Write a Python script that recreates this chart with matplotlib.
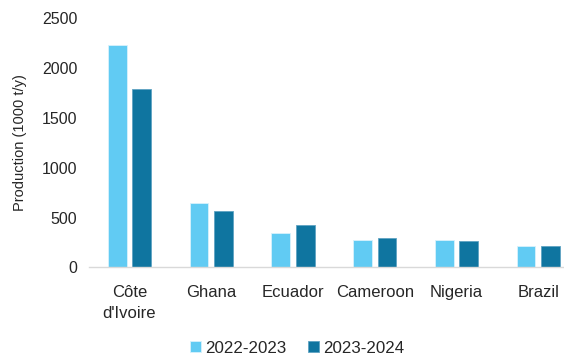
import matplotlib.pyplot as plt
import numpy as np

countries = ["Côte\nd'Ivoire", "Ghana", "Ecuador", "Cameroon", "Nigeria", "Brazil"]
prod_2022_23 = [2232, 649, 344, 277, 271, 214]
prod_2023_24 = [1787, 568, 425, 294, 264, 214]
seasons = ["2022-2023", "2023-2024"]

light_blue = "#61CBF3"
dark_blue = "#0F75A0"

plt.rcParams['font.family'] = ['Liberation Sans', 'DejaVu Sans']

fig = plt.figure(figsize=(5.64, 3.56), dpi=100)
ax = fig.add_axes([0.157, 0.249, 0.870, 0.700])

x = np.arange(len(countries))
w = 0.23
ax.bar(x - 0.15, prod_2022_23, w, color=light_blue, edgecolor="#d8f2fc", linewidth=0.6, label=seasons[0])
ax.bar(x + 0.15, prod_2023_24, w, color=dark_blue, edgecolor="#5fa3c2", linewidth=0.6, label=seasons[1])

ax.set_xlim(-0.5, len(countries) - 0.5)
ax.set_ylim(0, 2500)
ax.set_yticks(np.arange(0, 2501, 500))
ax.set_xticks(x)
ax.set_xticklabels(countries, fontsize=12, color="#262626", linespacing=1.45)
ax.tick_params(axis="y", labelsize=11.5, labelcolor="#262626", length=0, pad=8)
ax.tick_params(axis="x", length=0, pad=13)

for s in ["top", "right", "left"]:
    ax.spines[s].set_visible(False)
ax.spines["bottom"].set_color("#d9d9d9")
ax.spines["bottom"].set_linewidth(1.0)

ax.set_ylabel("Production (1000 t/y)", fontsize=10.5, color="#262626", labelpad=11)

fig.legend(loc="center", bbox_to_anchor=(0.527, 0.022), ncol=2, frameon=False,
           fontsize=12.2, handlelength=0.65, handleheight=0.65, handletextpad=0.25,
           columnspacing=1.3, labelcolor="#262626")

fig.savefig("out.png", dpi=100)
